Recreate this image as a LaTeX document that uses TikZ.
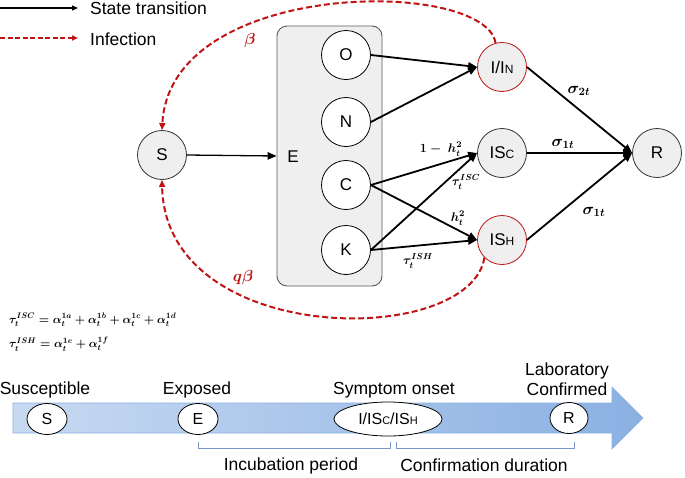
\RequirePackage{fix-cm}
\documentclass[tikz,border=0pt]{standalone}
\usepackage{amsmath}
\usepackage{fontspec}
\setmainfont{Liberation Sans}
\usetikzlibrary{arrows.meta,shapes.geometric}
\definecolor{dred}{RGB}{190,20,20}
\definecolor{cfill}{RGB}{239,239,239}
\definecolor{bluel}{RGB}{200,218,242}
\definecolor{blued}{RGB}{138,176,226}
\definecolor{brk}{RGB}{120,150,195}
\newcommand{\fs}[1]{\fontsize{#1}{#1}\selectfont}
\begin{document}
\begin{tikzpicture}[x=1pt,y=-1pt,
  st/.style={circle,draw=black!80,fill=cfill,minimum size=49pt,inner sep=0pt,line width=0.8pt,font=\fs{17}},
  rst/.style={st,draw=dred},
  sub/.style={circle,draw=black,fill=white,minimum size=49pt,inner sep=0pt,line width=0.8pt,font=\fs{17}},
  tr/.style={-{Triangle[length=9pt,width=7.5pt]},line width=1.8pt},
  inf/.style={dred,dashed,dash pattern=on 6pt off 3pt,line width=2pt,-{Triangle[length=7pt,width=6pt]}},
  lab/.style={inner sep=0pt,font=\fs{12.5}\boldmath},
  sig/.style={inner sep=0pt,font=\fs{16}\boldmath},
  tl/.style={ellipse,draw=black,fill=white,inner sep=0pt,line width=0.8pt,font=\fs{16}},
  tt/.style={inner sep=0pt,font=\fs{17.5}},
  fm/.style={anchor=west,inner sep=0pt,font=\fs{11.5}\boldmath}
]
\useasboundingbox (0,0) rectangle (685,477);

% legend
\coordinate (l1a) at (0,8); \coordinate (l1b) at (78,8);
\coordinate (l2a) at (0,38); \coordinate (l2b) at (78,38);
\draw[-{Triangle[length=6pt,width=5pt]},line width=1.2pt] (l1a) -- (l1b);
\draw[dred,dash pattern=on 5pt off 2.5pt,line width=1.5pt,-{Triangle[length=6pt,width=5pt]}] (l2a) -- (l2b);
\node[tt,anchor=west] (lt1) at (90,8) {State transition};
\node[tt,anchor=west] (lt2) at (90,39) {Infection};

% E box
\node[draw=black!65,fill=cfill,rounded corners=10pt,line width=0.9pt,minimum width=105pt,minimum height=260pt,inner sep=0pt] (Ebox) at (329.5,156) {};
\node[font=\fs{17},inner sep=0pt] (Elab) at (293,157) {E};

% nodes
\node[st] (S) at (162,155) {S};
\node[sub] (O) at (346,55) {O};
\node[sub] (N) at (346,122) {N};
\node[sub] (C) at (346,185) {C};
\node[sub] (K) at (346,250) {K};
\node[rst] (I) at (502,67) {I/I{\fs{12}N}};
\node[st] (ISC) at (502,153) {IS{\fs{12}C}};
\node[rst] (ISH) at (502,240) {IS{\fs{12}H}};
\node[st] (R) at (657,153) {R};

% transitions
\draw[tr,line width=1.3pt] (S.east) -- (Ebox.west);
\draw[tr] (O.east) -- (I.west);
\draw[tr] (N.east) -- (I.west);
\draw[tr] (C.east) -- (ISC.west);
\draw[tr] (K.east) -- (ISC.west);
\draw[tr] (C.east) -- (ISH.west);
\draw[tr] (K.east) -- (ISH.west);
\draw[tr] (I.east) -- (R.west);
\draw[tr] (ISC.east) -- (R.west);
\draw[tr] (ISH.east) -- (R.west);

% infection arcs
\draw[inf] (I.105) .. controls (485,-22) and (170,-22) .. (S.north);
\draw[inf] (ISH.-135) .. controls (470,348) and (165,348) .. (S.south);
\node[dred,sig] (beta) at (250,40) {$\beta$};
\node[dred,sig] (qbeta) at (243,277) {$q\beta$};

% labels
\node[sig] (s2) at (579,91) {$\sigma_{2t}$};
\node[sig] (s1a) at (563,144) {$\sigma_{1t}$};
\node[sig] (s1b) at (594,212) {$\sigma_{1t}$};
\node[lab] (h1) at (441,149) {$1-\ h_t^2$};
\node[lab] (tisc) at (466,182) {$\tau_t^{ISC}$};
\node[lab] (h2) at (458,218) {$h_t^2$};
\node[lab] (tish) at (418,261) {$\tau_t^{ISH}$};

% formulas
\node[fm] (f1) at (9,320) {$\tau_t^{ISC}=\alpha_t^{1a}+\alpha_t^{1b}+\alpha_t^{1c}+\alpha_t^{1d}$};
\node[fm] (f2) at (9,344) {$\tau_t^{ISH}=\alpha_t^{1e}+\alpha_t^{1f}$};

% timeline arrow
\shade[left color=bluel,right color=blued,draw=blued,line width=0.6pt]
  (13,403) -- (612,403) -- (612,387) -- (643,418) -- (612,449) -- (612,433) -- (13,433) -- cycle;
\node[tl,minimum width=40pt,minimum height=31pt] (tS) at (47,419) {S};
\node[tl,minimum width=40pt,minimum height=31pt] (tE) at (198,419) {E};
\node[tl,minimum width=108pt,minimum height=34pt] (tI) at (388,419) {I/IS{\fs{11}C}/IS{\fs{11}H}};
\node[tl,minimum width=38pt,minimum height=31pt] (tR) at (569,418) {R};
\node[tt] (lS) at (45,390) {Susceptible};
\node[tt] (lE) at (197,390) {Exposed};
\node[tt] (lI) at (394,390) {Symptom onset};
\node[tt,align=center] (lR) at (567,379) {Laboratory\\[2pt]Confirmed};
\coordinate (b1a) at (198,442); \coordinate (b1b) at (390,442);
\coordinate (b2a) at (396,442); \coordinate (b2b) at (574,442);
\draw[brk,line width=0.8pt] (b1a) -- ++(0,6) -| (b1b);
\draw[brk,line width=0.8pt] (b2a) -- ++(0,6) -| (b2b);
\node[tt] (inc) at (291,466) {Incubation period};
\node[tt] (conf) at (484,465) {Confirmation duration};
\end{tikzpicture}
\end{document}
